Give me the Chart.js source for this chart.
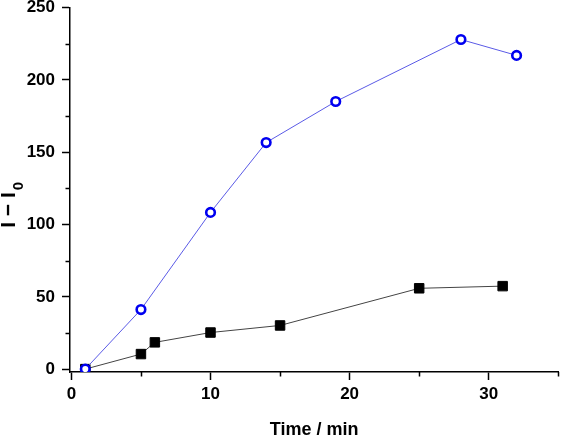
<!DOCTYPE html>
<html><head><meta charset="utf-8">
<script src="https://cdn.jsdelivr.net/npm/chart.js@4/dist/chart.umd.min.js"></script>
<style>html,body{margin:0;padding:0;background:#fff}#wrap{width:566px;height:437px;position:relative}</style>
</head><body><div id="wrap"><canvas id="c"></canvas></div>
<script>
// Data
const timeBlue = [1, 5, 10, 14, 19, 28, 32];
const valuesBlue = [0, 41.2, 108.4, 156.7, 185.1, 228, 217];
const timeBlack = [1, 5, 6, 10, 15, 25, 31];
const valuesBlack = [0, 10.4, 18.5, 25.3, 30.2, 55.9, 57.4];
const xMajorTicks = [0, 10, 20, 30];
const xMinorTicks = [5, 15, 25, 35];
const yMajorTicks = [0, 50, 100, 150, 200, 250];
const yMinorTicks = [25, 75, 125, 175, 225];
const xTitle = 'Time / min';
const yTitleMain = 'I \u2212 I';
const yTitleSub = '0';

const FONT = '"Liberation Sans", Arial, sans-serif';

const minorTicksPlugin = {
  id: 'minorTicks',
  afterDraw(chart) {
    const ctx = chart.ctx, xs = chart.scales.x, ys = chart.scales.y, a = chart.chartArea;
    ctx.save();
    ctx.strokeStyle = '#000';
    ctx.lineWidth = 1.5;
    ctx.beginPath();
    xMinorTicks.forEach(v => {
      const px = Math.round(xs.getPixelForValue(v)) + 0.5;
      ctx.moveTo(px, a.bottom); ctx.lineTo(px, a.bottom + 4.5);
    });
    yMinorTicks.forEach(v => {
      const py = Math.round(ys.getPixelForValue(v)) + 0.5;
      ctx.moveTo(a.left, py); ctx.lineTo(a.left - 4.5, py);
    });
    ctx.stroke();
    // y axis title with subscript
    const mainFont = 'bold 21px ' + FONT, subFont = 'bold 15px ' + FONT;
    ctx.font = mainFont;
    const w1 = ctx.measureText(yTitleMain).width;
    ctx.font = subFont;
    const w2 = ctx.measureText(yTitleSub).width;
    const total = w1 + w2 + 2;
    const cy = (a.top + a.bottom) / 2 + 15;
    ctx.translate(15, cy + total / 2);
    ctx.rotate(-Math.PI / 2);
    ctx.fillStyle = '#000';
    ctx.textBaseline = 'alphabetic';
    ctx.textAlign = 'left';
    ctx.font = mainFont;
    ctx.fillText(yTitleMain, 0, 0);
    ctx.font = subFont;
    ctx.fillText(yTitleSub, w1 + 2, 8);
    ctx.restore();
  }
};

const tickFont = { family: FONT, size: 17, weight: 'bold' };

new Chart(document.getElementById('c'), {
  type: 'line',
  data: {
    datasets: [
      {
        label: 'blue',
        data: timeBlue.map((t, i) => ({ x: t, y: valuesBlue[i] })),
        borderColor: '#5a5ae6',
        borderWidth: 1,
        pointStyle: 'circle',
        pointRadius: 4.3,
        pointBorderWidth: 2.6,
        pointBorderColor: '#0000f0',
        pointBackgroundColor: '#ffffff',
        tension: 0,
        order: 0
      },
      {
        label: 'black',
        data: timeBlack.map((t, i) => ({ x: t, y: valuesBlack[i] })),
        borderColor: '#444444',
        borderWidth: 1,
        pointStyle: 'rect',
        pointRadius: 6.7,
        pointBorderWidth: 1,
        pointBorderColor: '#000',
        pointBackgroundColor: '#000',
        tension: 0,
        order: 1
      }
    ]
  },
  options: {
    responsive: true,
    maintainAspectRatio: false,
    animation: false,
    layout: { padding: { top: 7, right: 3, left: 0, bottom: 0 } },
    plugins: { legend: { display: false }, tooltip: { enabled: false } },
    scales: {
      x: {
        type: 'linear',
        min: -0.1,
        max: 35,
        afterBuildTicks: s => { s.ticks = xMajorTicks.map(v => ({ value: v })); },
        afterFit: s => { s.height = 65; s.paddingLeft = 0; s.paddingRight = 0; },
        border: { color: '#000', width: 1.5 },
        grid: { drawOnChartArea: false, tickLength: 8, tickColor: '#000', tickWidth: 1.5 },
        ticks: { font: tickFont, color: '#000', padding: 4, maxRotation: 0 },
        title: { display: true, text: xTitle, color: '#000', font: { family: FONT, size: 18, weight: 'bold' }, padding: { top: 0, bottom: -4 } }
      },
      y: {
        min: -2,
        max: 250,
        afterBuildTicks: s => { s.ticks = yMajorTicks.map(v => ({ value: v })); },
        afterFit: s => { s.width = 70; s.paddingTop = 0; s.paddingBottom = 0; },
        border: { color: '#000', width: 1.5 },
        grid: { drawOnChartArea: false, tickLength: 8, tickColor: '#000', tickWidth: 1.5 },
        ticks: { font: tickFont, color: '#000', padding: 7 }
      }
    }
  },
  plugins: [minorTicksPlugin]
});
</script>
</body></html>
